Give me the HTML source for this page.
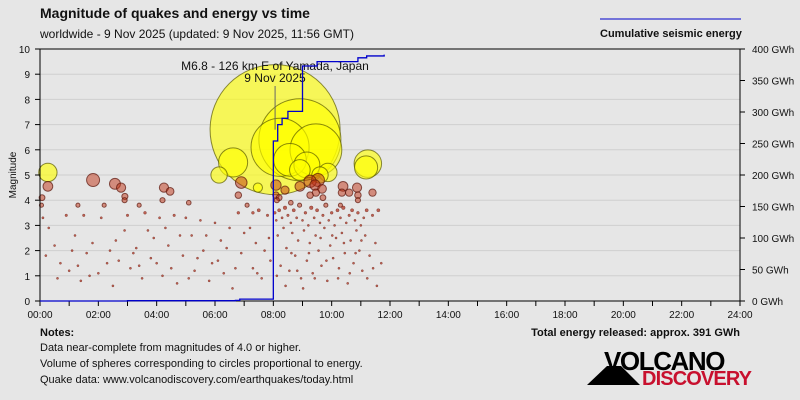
<!DOCTYPE html>
<html><head><meta charset="utf-8"><style>
body{margin:0;background:#e6e6e6;}
svg{display:block;font-family:"Liberation Sans",sans-serif;}
</style></head><body>
<svg id="chart" width="800" height="400" viewBox="0 0 800 400">
<rect x="0" y="0" width="800" height="400" fill="#e6e6e6"/>
<text x="40" y="18" font-size="14" font-weight="bold" fill="#111">Magnitude of quakes and energy vs time</text>
<text x="40" y="38" font-size="12" fill="#111">worldwide -  9 Nov 2025 (updated: 9 Nov 2025, 11:56 GMT)</text>
<line x1="600" y1="19" x2="741" y2="19" stroke="#0000cc" stroke-width="1"/>
<text x="600" y="37" font-size="11" font-weight="bold" fill="#111">Cumulative seismic energy</text>
<g id="grid"></g>
<g id="energy"></g>
<g id="bubbles"></g>
<g id="axes"></g>
<text x="275" y="70" font-size="12" text-anchor="middle" fill="#111">M6.8 - 126 km E of Yamada, Japan</text>
<text x="275" y="82" font-size="12" text-anchor="middle" fill="#111">9 Nov 2025</text>
<text transform="translate(16,175) rotate(-90)" font-size="10" text-anchor="middle" fill="#111">Magnitude</text>
<text x="40" y="336" font-size="11" font-weight="bold" fill="#111">Notes:</text>
<text x="40" y="351" font-size="11" fill="#111">Data near-complete from magnitudes of 4.0 or higher.</text>
<text x="40" y="367" font-size="11" fill="#111">Volume of spheres corresponding to circles proportional to energy.</text>
<text x="40" y="383" font-size="11" fill="#111">Quake data: www.volcanodiscovery.com/earthquakes/today.html</text>
<text x="740" y="336" font-size="11" font-weight="bold" text-anchor="end" fill="#111">Total energy released: approx. 391 GWh</text>
<g>
<polygon points="587,385 640,385 621,366 607,366" fill="#000"/>
<text x="604" y="370" font-size="26" font-weight="bold" fill="#000" letter-spacing="-1.5" textLength="120">VOLCANO</text>
<text x="642" y="385" font-size="20" font-weight="bold" fill="#c8102e" textLength="110">DISCOVERY</text>
</g>
</svg>
<script>
const bubbleTimes=[0.27,0.27,0.07,1.82,2.57,2.78,2.91,4.25,4.46,6.14,6.62,6.9,7.47,8.09,8.09,8.12,8.06,8.91,8.23,8.57,9.46,9.15,8.91,9.87,9.6,11.24,11.18,8.91,9.26,9.53,9.43,9.67,9.26,9.46,10.39,10.35,10.87,10.9];
const bubbleMags=[5.1,4.55,4.1,4.8,4.65,4.5,4.15,4.5,4.35,5.0,5.5,4.7,4.5,4.6,4.2,4.0,6.8,6.4,6.1,5.6,6.0,5.4,5.2,5.1,5.0,5.45,5.3,4.55,4.75,4.8,4.6,4.45,4.2,4.3,4.55,4.3,4.5,4.2];
const bubbleColors=["Y","R","R","R","R","R","R","R","R","Y","Y","R","Y","R","R","R","Y","Y","Y","Y","Y","Y","Y","Y","Y","Y","Y","R","R","R","R","R","R","R","R","R","R","R"];
const dotTimes=[0.05,0.1,0.3,0.5,0.7,0.9,1.0,1.2,1.4,1.5,1.6,1.8,2.0,2.1,2.2,2.4,2.5,2.7,2.9,3.0,3.1,3.3,3.5,3.6,3.8,3.9,4.1,4.2,4.4,4.6,4.7,4.9,5.0,5.2,5.3,5.5,5.6,5.8,5.9,6.0,6.2,6.3,6.5,6.6,6.8,6.9,7.0,7.1,7.3,7.4,7.5,7.6,7.7,7.8,7.9,0.2,0.6,1.1,1.3,1.7,2.3,2.6,3.2,3.4,3.7,4.0,4.3,4.5,4.8,5.1,5.4,5.7,6.1,6.4,6.7,7.2,7.45,7.85,8.05,8.1,8.15,8.2,8.25,8.3,8.35,8.4,8.45,8.5,8.55,8.6,8.65,8.7,8.75,8.8,8.85,8.9,8.95,9.0,9.05,9.1,9.15,9.2,9.25,9.3,9.35,9.4,9.45,9.5,9.55,9.6,9.65,9.7,9.75,9.8,9.85,9.9,9.95,10.0,10.05,10.1,10.15,10.2,10.25,10.3,10.35,10.4,10.45,10.5,10.55,10.6,10.65,10.7,10.75,10.8,10.85,10.9,10.95,11.0,11.05,11.1,11.15,11.2,11.3,11.4,11.5,11.6,11.7,8.12,8.42,8.62,8.82,9.02,9.22,9.42,9.62,9.82,10.02,10.22,10.42,10.62,10.82,11.02,11.22,11.42,11.55,4.2,5.1,6.8,7.3,8.2,8.4,8.6,9.7,10.3,10.6,10.9,11.4,1.3,2.9,3.4];
const dotMags=[3.8,3.3,2.9,2.2,1.5,3.4,1.2,2.6,0.8,3.4,1.9,2.3,1.1,3.3,3.8,2.0,0.6,1.6,2.8,3.4,1.3,2.1,0.9,3.5,1.7,2.5,3.3,1.0,2.2,3.4,0.7,1.8,3.3,2.6,1.2,3.2,2.0,0.8,1.5,3.1,2.4,1.1,2.9,0.5,3.5,1.9,2.7,3.8,1.3,2.3,3.6,0.9,2.0,3.4,1.6,1.8,0.9,2.0,1.4,1.0,1.5,2.4,1.9,1.4,2.8,1.5,2.9,1.3,2.6,0.9,1.7,2.6,1.6,2.1,1.3,2.9,1.1,2.5,3.5,3.2,2.6,3.6,1.4,3.3,2.9,3.7,2.1,3.4,1.2,3.1,2.7,3.6,1.8,3.3,2.4,3.8,0.9,3.2,2.8,3.5,1.6,3.0,2.3,3.7,1.1,3.3,2.6,3.6,2.0,3.1,1.4,3.4,2.9,3.8,0.8,3.2,2.2,3.5,1.7,3.0,2.5,3.6,1.3,3.3,2.7,3.7,1.9,3.1,0.7,3.4,2.4,3.6,1.5,3.2,2.8,3.5,2.0,3.0,1.2,3.3,2.6,3.6,1.8,3.4,2.3,3.6,1.5,1.0,0.6,1.9,1.2,0.5,1.9,0.9,2.5,1.6,2.6,0.9,2.3,1.1,1.9,2.4,0.9,1.3,0.6,4.0,3.9,4.2,3.5,4.1,4.4,3.9,4.1,3.8,4.3,4.0,4.3,3.8,4.0,3.8];
const energyTimes=[0,3.0,6.7,6.85,8.0,8.15,8.3,8.5,9.0,9.5,10.9,11.2,11.8];
const energyValues=[0,0.5,1,3,254,280,290,301,373,380,386,389,391];
const xTickLabels=["00:00","02:00","04:00","06:00","08:00","10:00","12:00","14:00","16:00","18:00","20:00","22:00","24:00"];
const yTickLabels=["0","1","2","3","4","5","6","7","8","9","10"];
const y2TickLabels=["0 GWh","50 GWh","100 GWh","150 GWh","200 GWh","250 GWh","300 GWh","350 GWh","400 GWh"];

const NS="http://www.w3.org/2000/svg";
const X0=40,X1=740,Y0=301,Y1=49;
const xs=t=>X0+(t/24)*(X1-X0);
const ys=m=>Y0-(m/10)*(Y0-Y1);
const ye=g=>Y0-(g/400)*(Y0-Y1);
const rad=m=>Math.max(1.1,65*Math.pow(10,0.5*(m-6.8)));
function mk(tag,attrs,parent){const e=document.createElementNS(NS,tag);for(const k in attrs)e.setAttribute(k,attrs[k]);parent.appendChild(e);return e;}
const grid=document.getElementById('grid'),axes=document.getElementById('axes'),bub=document.getElementById('bubbles'),en=document.getElementById('energy');

yTickLabels.forEach((l,i)=>{
  const y=ys(i);
  if(i>0&&i<10){const g=mk('line',{x1:X0,x2:X1,y1:y,y2:y,stroke:'#cfcfcf','stroke-width':1},grid);
  
  }
  const tk=mk('line',{x1:X0-5,x2:X0,y1:y,y2:y,stroke:'#000'},axes);
  
  
  const t=mk('text',{x:X0-10,y:y+4,'font-size':10,'text-anchor':'end',fill:'#111'},axes);t.textContent=l;
  
  
});
y2TickLabels.forEach((l,i)=>{
  const y=ye(i*50);
  const tk=mk('line',{x1:X1,x2:X1+5,y1:y,y2:y,stroke:'#000'},axes);
  
  
  const t=mk('text',{x:X1+12,y:y+4,'font-size':10,fill:'#111'},axes);t.textContent=l;
  
  
});
for(let h=0;h<=24;h++){
  const x=xs(h);
  const tk=mk('line',{x1:x,x2:x,y1:Y0,y2:Y0+5,stroke:'#000'},axes);
  
  
}
xTickLabels.forEach((l,i)=>{
  const t=mk('text',{x:xs(i*2),y:Y0+17,'font-size':10,'text-anchor':'middle',fill:'#111'},axes);t.textContent=l;
  
  
});
[[X0,Y1,X1,Y1],[X0,Y0,X1,Y0],[X0,Y1,X0,Y0],[X1,Y1,X1,Y0]].forEach(a=>{
  const l=mk('line',{x1:a[0],y1:a[1],x2:a[2],y2:a[3],stroke:'#000'},axes);
  
  
});

// bubbles + dots
const items=[];
bubbleTimes.forEach((t,i)=>items.push({t,m:bubbleMags[i],c:bubbleColors[i]}));
dotTimes.forEach((t,i)=>items.push({t,m:dotMags[i],c:'R'}));
items.sort((a,b)=>b.m-a.m);
items.forEach(d=>{
  const r=rad(d.m);
  const yel=d.c==='Y';
  const c=mk('circle',{cx:xs(d.t),cy:ys(d.m),r:r,
    fill:yel?'rgba(255,255,0,0.62)':(r<2?'rgba(170,40,20,0.7)':'rgba(190,50,20,0.5)'),
    stroke:yel?'rgba(90,90,0,0.7)':'rgba(90,20,10,0.7)','stroke-width':r<2?0.4:1},bub);
  
  
});
// annotation pointer
const pl=mk('line',{x1:xs(8.06),x2:xs(8.06),y1:86,y2:ys(6.8),stroke:'#666'},bub);



// energy step line
let d=`M${xs(energyTimes[0])},${ye(energyValues[0])}`;
for(let i=1;i<energyTimes.length;i++){
  d+=` L${xs(energyTimes[i])},${ye(energyValues[i-1])} L${xs(energyTimes[i])},${ye(energyValues[i])}`;
}
const p=mk('path',{d,fill:'none',stroke:'#0000cc','stroke-width':1.3},en);


document.getElementById('chart').appendChild(en);
</script>
</body></html>
